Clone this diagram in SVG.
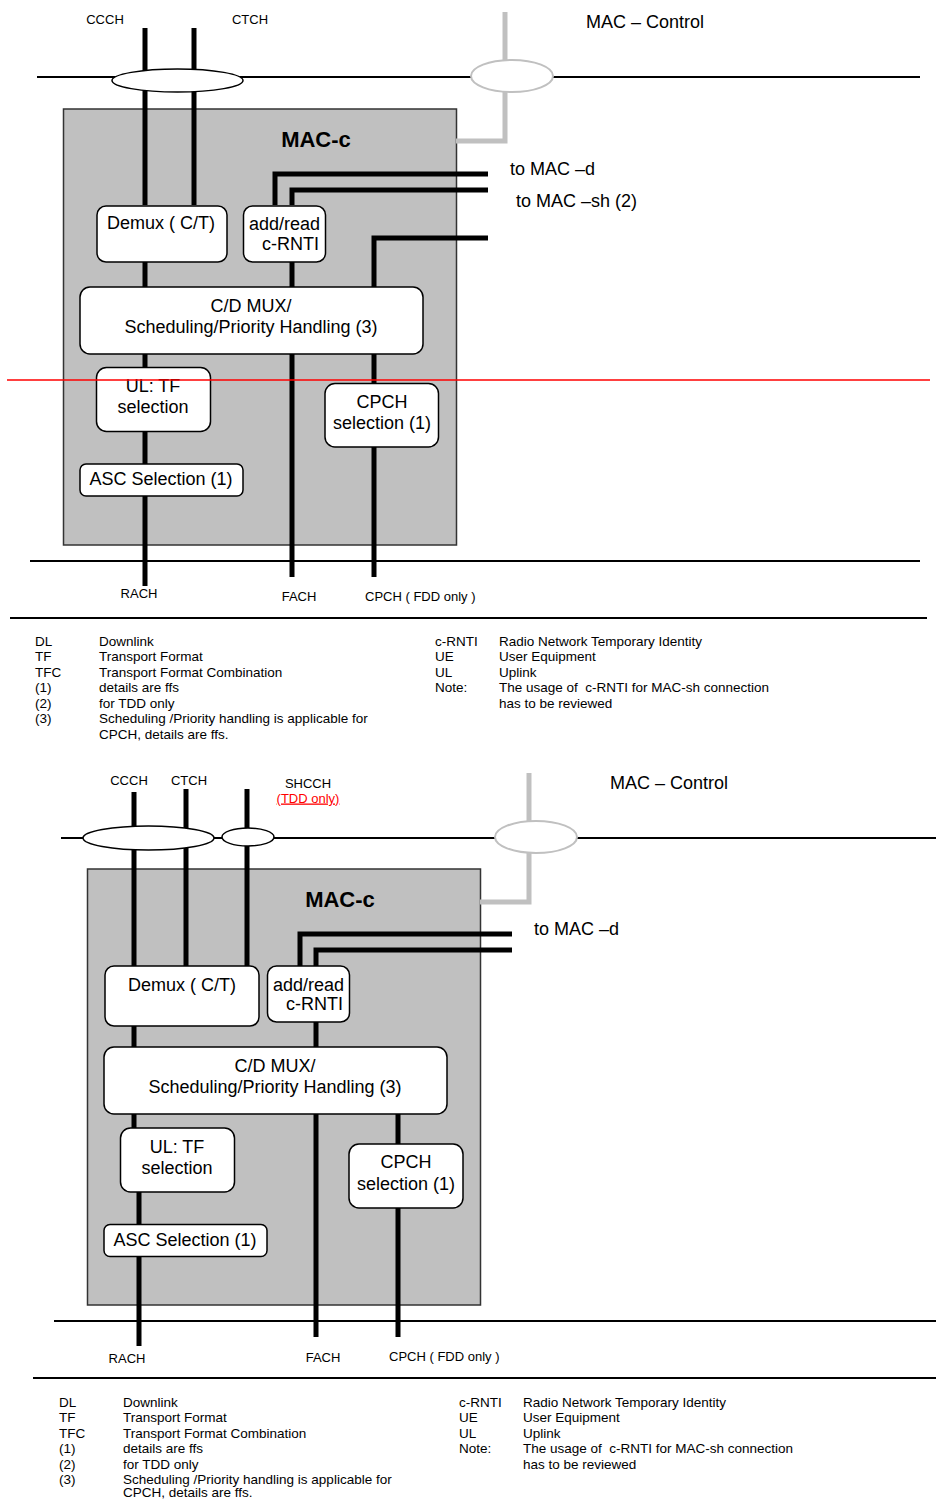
<svg xmlns="http://www.w3.org/2000/svg" width="936" height="1499" viewBox="0 0 936 1499">
<style>
text{font-family:"Liberation Sans",Arial,sans-serif;fill:#000}
.lbl{font-size:13px}
.big{font-size:18px}
.title{font-size:22px;font-weight:bold}
.leg{font-size:13.5px}
.mid{text-anchor:middle}
.end{text-anchor:end}
.box{fill:#fff;stroke:#000;stroke-width:1.5}
.mac{fill:#c0c0c0;stroke:#333;stroke-width:1.5}
.ch{stroke:#000;stroke-width:5;fill:none}
.ctl{stroke:#c0c0c0;stroke-width:5;fill:none}
.hl{stroke:#000;stroke-width:2;fill:none}
.ell{fill:#fff;stroke:#000;stroke-width:1.5}
.gell{fill:#fff;stroke:#c0c0c0;stroke-width:2}
</style>
<rect width="936" height="1499" fill="#fff"/>

<!-- ===== TOP DIAGRAM ===== -->
<g id="top-diagram">
<line class="hl" x1="37" y1="77" x2="920" y2="77"/>
<line class="hl" x1="30" y1="561" x2="920" y2="561"/>
<line class="hl" x1="10" y1="618" x2="927" y2="618"/>
<g id="macc-top">
<rect class="mac" x="63.5" y="109" width="393" height="436"/>
<text class="title mid" x="316" y="147">MAC-c</text>
</g>
<g id="connectors-top">
<path class="ch" d="M145 28V205"/>
<path class="ch" d="M194 28V205"/>
<path class="ch" d="M145 262V586"/>
<path class="ch" d="M275 205V174H488"/>
<path class="ch" d="M292 205V190H488"/>
<path class="ch" d="M292 262V577"/>
<path class="ch" d="M374 287V238H488"/>
<path class="ch" d="M374 354V577"/>
<path class="ctl" d="M505 12V60"/>
<path class="ctl" d="M505 92V141H456"/>
</g>
<g id="sap-top">
<ellipse class="ell" cx="177.5" cy="80.5" rx="65.5" ry="11.5"/>
<ellipse class="gell" cx="512" cy="76" rx="41" ry="16"/>
</g>
<g id="demux-top">
<rect class="box" x="97" y="206" width="130" height="56" rx="9"/>
<text class="big mid" x="161" y="228.5">Demux ( C/T)</text>
</g>
<g id="addread-top">
<rect class="box" x="243.5" y="206" width="82" height="56" rx="9"/>
<text class="big end" x="320" y="229.5">add/read</text>
<text class="big end" x="319" y="249.5">c-RNTI</text>
</g>
<g id="cdmux-top">
<rect class="box" x="80" y="287" width="343" height="67" rx="10"/>
<text class="big mid" x="251" y="311.5">C/D MUX/</text>
<text class="big mid" x="251" y="332.5">Scheduling/Priority Handling (3)</text>
</g>
<g id="ultf-top">
<rect class="box" x="96.5" y="367.5" width="114" height="64" rx="10"/>
<text class="big mid" x="153" y="391.5">UL: TF</text>
<text class="big mid" x="153" y="412.5">selection</text>
</g>
<g id="cpchsel-top">
<rect class="box" x="325" y="383.5" width="113.5" height="63.5" rx="10"/>
<text class="big mid" x="382" y="407.5">CPCH</text>
<text class="big mid" x="382" y="428.5">selection (1)</text>
</g>
<g id="asc-top">
<rect class="box" x="80" y="464" width="163" height="32" rx="6"/>
<text class="big mid" x="161" y="484.5">ASC Selection (1)</text>
</g>
<g id="labels-top">
<text class="lbl mid" x="105" y="23.5">CCCH</text>
<text class="lbl mid" x="250" y="23.5">CTCH</text>
<text class="big" x="586" y="27.5">MAC – Control</text>
<text class="big" x="510" y="174.5">to MAC –d</text>
<text class="big" x="516" y="206.5">to MAC –sh (2)</text>
<text class="lbl mid" x="139" y="597.5">RACH</text>
<text class="lbl mid" x="299" y="600.5">FACH</text>
<text class="lbl" x="365" y="600.5">CPCH ( FDD only )</text>
</g>
<g id="legend-top">
<text class="leg" x="35" y="645.5">DL</text><text class="leg" x="99" y="645.5">Downlink</text>
<text class="leg" x="35" y="661">TF</text><text class="leg" x="99" y="661">Transport Format</text>
<text class="leg" x="35" y="676.5">TFC</text><text class="leg" x="99" y="676.5">Transport Format Combination</text>
<text class="leg" x="35" y="692">(1)</text><text class="leg" x="99" y="692">details are ffs</text>
<text class="leg" x="35" y="707.5">(2)</text><text class="leg" x="99" y="707.5">for TDD only</text>
<text class="leg" x="35" y="723">(3)</text><text class="leg" x="99" y="723">Scheduling /Priority handling is applicable for</text>
<text class="leg" x="99" y="738.5">CPCH, details are ffs.</text>
<text class="leg" x="435" y="645.5">c-RNTI</text><text class="leg" x="499" y="645.5">Radio Network Temporary Identity</text>
<text class="leg" x="435" y="661">UE</text><text class="leg" x="499" y="661">User Equipment</text>
<text class="leg" x="435" y="676.5">UL</text><text class="leg" x="499" y="676.5">Uplink</text>
<text class="leg" x="435" y="692">Note:</text><text class="leg" x="499" y="692">The usage of &#160;c-RNTI for MAC-sh connection</text>
<text class="leg" x="499" y="707.5">has to be reviewed</text>
</g>
<line x1="7" y1="380" x2="930" y2="380" stroke="#ff0000" stroke-width="1.5"/>
</g>

<!-- ===== BOTTOM DIAGRAM ===== -->
<g id="bottom-diagram">
<line class="hl" x1="61" y1="838" x2="936" y2="838"/>
<line class="hl" x1="54" y1="1321" x2="936" y2="1321"/>
<line class="hl" x1="33" y1="1378" x2="936" y2="1378"/>
<g id="macc-bottom">
<rect class="mac" x="87.5" y="869" width="393" height="436"/>
<text class="title mid" x="340" y="907">MAC-c</text>
</g>
<g id="connectors-bottom">
<path class="ch" d="M134 792V966"/>
<path class="ch" d="M186 789V966"/>
<path class="ch" d="M247 789V966"/>
<path class="ch" d="M134 1026V1128"/>
<path class="ch" d="M139 1192V1346"/>
<path class="ch" d="M300 966V934H512"/>
<path class="ch" d="M316 966V950H512"/>
<path class="ch" d="M316 1022V1337"/>
<path class="ch" d="M398 1114V1337"/>
<path class="ctl" d="M529 773V821"/>
<path class="ctl" d="M529 853V902H480"/>
</g>
<g id="sap-bottom">
<ellipse class="ell" cx="148.5" cy="838" rx="65.5" ry="12"/>
<ellipse class="ell" cx="248" cy="837" rx="26" ry="9"/>
<ellipse class="gell" cx="536" cy="837" rx="41" ry="16"/>
</g>
<g id="demux-bottom">
<rect class="box" x="105" y="966" width="154" height="60" rx="9"/>
<text class="big mid" x="182" y="990.5">Demux ( C/T)</text>
</g>
<g id="addread-bottom">
<rect class="box" x="267.5" y="966" width="82" height="56" rx="9"/>
<text class="big end" x="344" y="990.5">add/read</text>
<text class="big end" x="343" y="1010">c-RNTI</text>
</g>
<g id="cdmux-bottom">
<rect class="box" x="104" y="1047" width="343" height="67" rx="10"/>
<text class="big mid" x="275" y="1071.5">C/D MUX/</text>
<text class="big mid" x="275" y="1092.5">Scheduling/Priority Handling (3)</text>
</g>
<g id="ultf-bottom">
<rect class="box" x="120.5" y="1128" width="114" height="64" rx="10"/>
<text class="big mid" x="177" y="1152.5">UL: TF</text>
<text class="big mid" x="177" y="1173.5">selection</text>
</g>
<g id="cpchsel-bottom">
<rect class="box" x="349" y="1144" width="114" height="64" rx="10"/>
<text class="big mid" x="406" y="1167.5">CPCH</text>
<text class="big mid" x="406" y="1189.5">selection (1)</text>
</g>
<g id="asc-bottom">
<rect class="box" x="104" y="1224.5" width="163" height="32" rx="6"/>
<text class="big mid" x="185" y="1245.5">ASC Selection (1)</text>
</g>
<g id="labels-bottom">
<text class="lbl mid" x="129" y="784.5">CCCH</text>
<text class="lbl mid" x="189" y="784.5">CTCH</text>
<text class="lbl mid" x="308" y="787.5">SHCCH</text>
<text class="lbl mid" x="308" y="802.5" style="fill:#ff0000;text-decoration:underline">(TDD only)</text>
<text class="big" x="610" y="788.5">MAC – Control</text>
<text class="big" x="534" y="934.5">to MAC –d</text>
<text class="lbl mid" x="127" y="1362.5">RACH</text>
<text class="lbl mid" x="323" y="1361.5">FACH</text>
<text class="lbl" x="389" y="1360.5">CPCH ( FDD only )</text>
</g>
<g id="legend-bottom">
<text class="leg" x="59" y="1406.5">DL</text><text class="leg" x="123" y="1406.5">Downlink</text>
<text class="leg" x="59" y="1422">TF</text><text class="leg" x="123" y="1422">Transport Format</text>
<text class="leg" x="59" y="1437.5">TFC</text><text class="leg" x="123" y="1437.5">Transport Format Combination</text>
<text class="leg" x="59" y="1453">(1)</text><text class="leg" x="123" y="1453">details are ffs</text>
<text class="leg" x="59" y="1468.5">(2)</text><text class="leg" x="123" y="1468.5">for TDD only</text>
<text class="leg" x="59" y="1484">(3)</text><text class="leg" x="123" y="1484">Scheduling /Priority handling is applicable for</text>
<text class="leg" x="123" y="1497">CPCH, details are ffs.</text>
<text class="leg" x="459" y="1406.5">c-RNTI</text><text class="leg" x="523" y="1406.5">Radio Network Temporary Identity</text>
<text class="leg" x="459" y="1422">UE</text><text class="leg" x="523" y="1422">User Equipment</text>
<text class="leg" x="459" y="1437.5">UL</text><text class="leg" x="523" y="1437.5">Uplink</text>
<text class="leg" x="459" y="1453">Note:</text><text class="leg" x="523" y="1453">The usage of &#160;c-RNTI for MAC-sh connection</text>
<text class="leg" x="523" y="1468.5">has to be reviewed</text>
</g>
</g>
</svg>
